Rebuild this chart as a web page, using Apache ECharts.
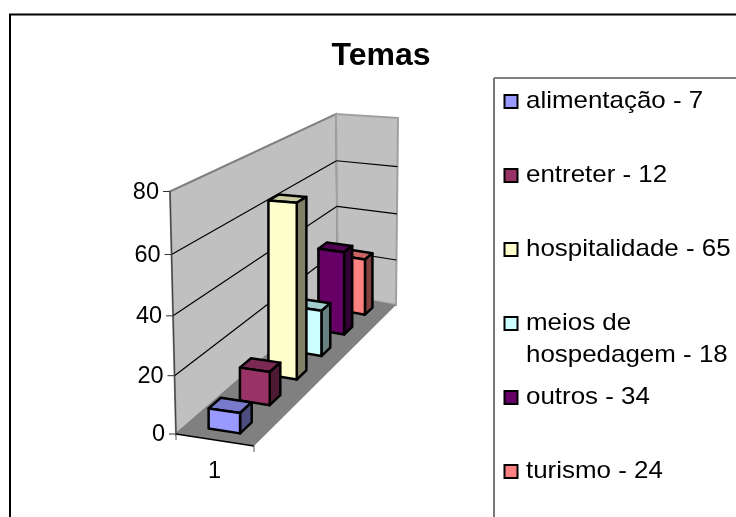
<!DOCTYPE html>
<html>
<head>
<meta charset="utf-8">
<style>
  html, body { margin: 0; padding: 0; background: #fff; }
  #chart { width: 736px; height: 517px; }
</style>
<script src="https://cdn.jsdelivr.net/npm/echarts@6/dist/echarts.min.js"></script>
</head>
<body>
<div id="chart"></div>
<script>
const themes = ['alimentação', 'entreter', 'hospitalidade', 'meios de hospedagem', 'outros', 'turismo'];
const values = [7, 12, 65, 18, 34, 24];
const colors = ['#9999ff', '#993366', '#ffffcc', '#ccffff', '#660066', '#ff8080'];
const yTicks = [0, 20, 40, 60, 80];
const xLabels = ['1'];
const legendLines = [
  ['alimentação - 7'],
  ['entreter - 12'],
  ['hospitalidade - 65'],
  ['meios de', 'hospedagem - 18'],
  ['outros - 34'],
  ['turismo - 24']
];

const FONT = '"Liberation Sans", Arial, sans-serif';

// the plot box on screen, the 3d look is only a warp of the grid below
const grid = { left: 176, top: 191, width: 162, height: 243 };
const box = {
  frontLeftBottom: [176, 434], frontRightBottom: [254, 446],
  backLeftBottom: [338, 294], backRightBottom: [396, 305],
  frontLeftTop: [170, 191.5], frontRightTop: [250, 196],
  backLeftTop: [336, 114], backRightTop: [398, 118]
};
const DEPTH_K = 0.3;
const HEIGHT_Q = 0.05;

function mix(a, b, f) {
  return [a[0] + (b[0] - a[0]) * f, a[1] + (b[1] - a[1]) * f];
}

// u: across the floor 0..1, depth: category units, value: axis value
function project(api, u, depth, value) {
  const p = api.coord([depth, value]);
  const d = (p[0] - grid.left) / grid.width;
  const w = (grid.top + grid.height - p[1]) / grid.height;
  const t = d * (1 + DEPTH_K) / (1 + DEPTH_K * d);
  const h = w * (1 - HEIGHT_Q) / (1 - HEIGHT_Q * w);
  const bottom = mix(mix(box.frontLeftBottom, box.backLeftBottom, t), mix(box.frontRightBottom, box.backRightBottom, t), u);
  const top = mix(mix(box.frontLeftTop, box.backLeftTop, t), mix(box.frontRightTop, box.backRightTop, t), u);
  return mix(bottom, top, h);
}

function shade(hex, f) {
  const n = parseInt(hex.slice(1), 16);
  return 'rgb(' + Math.round((n >> 16) * f) + ',' + Math.round(((n >> 8) & 255) * f) + ',' + Math.round((n & 255) * f) + ')';
}

function line(a, b, color, width) {
  return {
    type: 'line',
    shape: { x1: a[0], y1: a[1], x2: b[0], y2: b[1] },
    style: { stroke: color, lineWidth: width }
  };
}

function renderWalls(params, api) {
  const depthMax = themes.length;
  const vMax = yTicks[yTicks.length - 1];
  const children = [];
  const p = (u, c, v) => project(api, u, c, v);

  children.push({
    type: 'polygon',
    shape: { points: [p(0, 0, 0), p(0, 0, vMax), p(0, depthMax, vMax), p(0, depthMax, 0)] },
    style: { fill: '#c0c0c0', stroke: '#808080', lineWidth: 2 }
  });
  children.push({
    type: 'polygon',
    shape: { points: [p(0, depthMax, 0), p(0, depthMax, vMax), p(1, depthMax, vMax), p(1, depthMax, 0)] },
    style: { fill: '#c0c0c0', stroke: '#a0a0a0', lineWidth: 2 }
  });
  children.push({
    type: 'polygon',
    shape: { points: [p(0, 0, 0), p(1, 0, 0), p(1, depthMax, 0), p(0, depthMax, 0)] },
    style: { fill: '#808080' }
  });

  yTicks.forEach(v => {
    if (v > 0 && v < vMax) {
      children.push(line(p(0, 0, v), p(0, depthMax, v), '#000', 1.2));
      children.push(line(p(0, depthMax, v), p(1, depthMax, v), '#000', 1.2));
    }
    const a = p(0, 0, v);
    children.push(line([a[0] - 7, a[1]], a, '#333', 1));
    children.push({
      type: 'text',
      style: { text: String(v), x: a[0] - 11, y: a[1] + 1, align: 'right', verticalAlign: 'middle', font: '23.5px ' + FONT, fill: '#000' }
    });
  });

  // y axis and the front edge of the floor
  children.push(line(p(0, 0, 0), p(0, 0, vMax), '#404040', 1));
  children.push(line(p(0, 0, 0), p(1, 0, 0), '#000', 1.5));
  const a = p(0, 0, 0);
  const b = p(1, 0, 0);
  children.push(line(a, [a[0], a[1] + 6], '#555', 1));
  children.push(line(b, [b[0], b[1] + 6], '#555', 1));

  const c = p(0.5, 0, 0);
  children.push({
    type: 'text',
    style: { text: xLabels[0], x: c[0] - 0.5, y: c[1] + 32, align: 'center', verticalAlign: 'middle', font: '23.5px ' + FONT, fill: '#000' }
  });
  return { type: 'group', children: children };
}

function renderBar(params, api) {
  const i = api.value(0);
  const v = api.value(1);
  const u0 = 0.29, u1 = 0.7;
  const c0 = i + 0.3, c1 = i + 0.68;
  const col = colors[i];
  const style = { stroke: '#000', lineWidth: 2.5, lineJoin: 'round' };
  // bars stay upright, only the height is warped: x comes from the floor
  const p = (u, c, val) => {
    const q = project(api, u, c, val);
    q[0] = project(api, u, c, 0)[0];
    return q;
  };
  const faces = [
    // top, side, front
    { pts: [p(u0, c0, v), p(u0, c1, v), p(u1, c1, v), p(u1, c0, v)], fill: shade(col, 0.8) },
    { pts: [p(u1, c0, v), p(u1, c1, v), p(u1, c1, 0), p(u1, c0, 0)], fill: shade(col, 0.5) },
    { pts: [p(u0, c0, v), p(u1, c0, v), p(u1, c0, 0), p(u0, c0, 0)], fill: col }
  ];
  return {
    type: 'group',
    children: faces.map(f => ({
      type: 'polygon',
      z2: 10,
      shape: { points: f.pts },
      style: Object.assign({ fill: f.fill }, style)
    }))
  };
}

function legendGraphics() {
  const els = [
    { type: 'line', shape: { x1: 494, y1: 78, x2: 736, y2: 78 }, style: { stroke: '#000', lineWidth: 1 } },
    { type: 'line', shape: { x1: 494, y1: 78, x2: 494, y2: 517 }, style: { stroke: '#777', lineWidth: 2 } }
  ];
  legendLines.forEach((lines, i) => {
    const cy = 101.5 + i * 74;
    els.push({
      type: 'rect',
      shape: { x: 504.5, y: cy - 6.5, width: 13, height: 13 },
      style: { fill: colors[i], stroke: '#000', lineWidth: 2 }
    });
    lines.forEach((txt, k) => {
      els.push({
        type: 'text',
        x: 526,
        y: cy + k * 32,
        scaleX: 1.08,
        style: { text: txt, font: '24px ' + FONT, fill: '#000', verticalAlign: 'middle' }
      });
    });
  });
  return els;
}

const chart = echarts.init(document.getElementById('chart'), null, { renderer: 'canvas' });
chart.setOption({
  animation: false,
  backgroundColor: '#fff',
  title: {
    text: 'Temas',
    left: 376,
    top: 35,
    textAlign: 'center',
    textStyle: { fontFamily: FONT, fontSize: 32, fontWeight: 'bold', color: '#000' }
  },
  grid: grid,
  xAxis: { type: 'value', min: 0, max: themes.length, show: false },
  yAxis: { type: 'value', min: 0, max: yTicks[yTicks.length - 1], show: false },
  graphic: [
    { type: 'rect', shape: { x: 10, y: 14.5, width: 800, height: 600 }, style: { fill: 'none', stroke: '#000', lineWidth: 2 } }
  ].concat(legendGraphics()),
  series: [
    {
      type: 'custom',
      name: 'paredes',
      clip: false,
      silent: true,
      z: 1,
      data: [[0, 0]],
      renderItem: renderWalls
    }
  ].concat(themes.map((name, i) => ({
    type: 'custom',
    name: name,
    clip: false,
    z: 20 - i,
    data: [[i, values[i]]],
    renderItem: renderBar
  })))
});
</script>
</body>
</html>
